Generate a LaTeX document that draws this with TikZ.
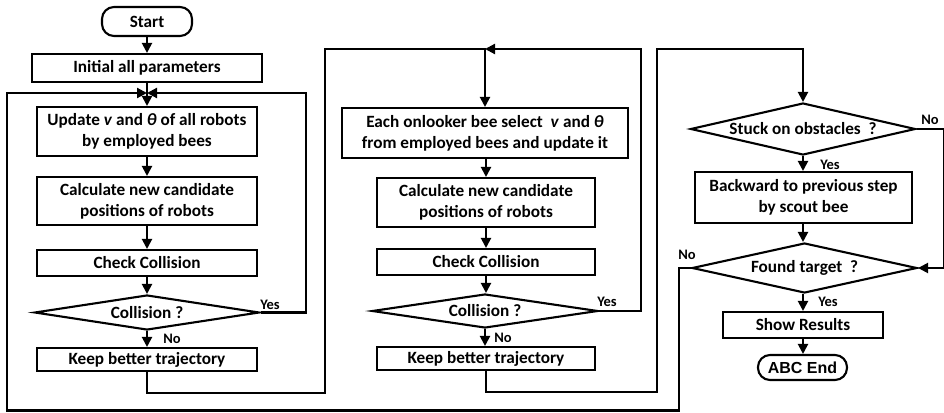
\documentclass[tikz,border=0pt]{standalone}
\usepackage{fontspec}
\setmainfont{Carlito}
\newfontfamily\arialf{Liberation Sans}
\usetikzlibrary{arrows.meta,shapes.geometric}
\begin{document}
\begin{tikzpicture}[x=1pt,y=-1pt,
  txt/.style={font=\bfseries\fontsize{17.2}{21}\selectfont,align=center,inner sep=0pt},
  lbl/.style={font=\bfseries\fontsize{14.5}{16}\selectfont,inner sep=0pt},
  box/.style={draw,line width=2.1pt,rectangle,inner sep=0pt,align=center,font=\bfseries\fontsize{17.2}{21}\selectfont},
  term/.style={box,rounded corners=12pt},
  dia/.style={draw,line width=2.1pt,diamond,inner sep=0pt},
  arr/.style={line width=2.1pt,-{Triangle[length=10pt,width=10pt]}}]
\useasboundingbox (0,0) rectangle (944,412);
% column 1
\node[term,minimum width=90,minimum height=29] (start) at (147,21.5) {Start};
\node[box,minimum width=230,minimum height=28] (init) at (147,68) {Initial all parameters};
\node[box,minimum width=220,minimum height=49] (upd) at (147,131.5) {Update \textit{v} and \textit{θ} of all robots\\by employed bees};
\node[box,minimum width=220,minimum height=48] (calc1) at (147,201) {Calculate new candidate\\positions of robots};
\node[box,minimum width=220,minimum height=26] (chk1) at (147,263) {Check Collision};
\node[dia,minimum width=225,minimum height=35] (d1) at (147,312.5) {};
\node[txt] (d1t) at (d1) {Collision ?};
\node[box,minimum width=220,minimum height=23] (keep1) at (147,359.5) {Keep better trajectory};
\coordinate (j1) at (147,93);
% column 2
\node[box,minimum width=286,minimum height=50] (onl) at (485,133) {Each onlooker bee select\ \ \textit{v} and \textit{θ}\\from employed bees and update it};
\node[box,minimum width=218,minimum height=49] (calc2) at (486,202.5) {Calculate new candidate\\positions of robots};
\node[box,minimum width=218,minimum height=26] (chk2) at (486,262) {Check Collision};
\node[dia,minimum width=226,minimum height=34] (d2) at (485,311) {};
\node[txt] (d2t) at (d2) {Collision ?};
\node[box,minimum width=218,minimum height=23] (keep2) at (486,358.5) {Keep better trajectory};
\coordinate (j2) at (485,49);
% column 3
\node[dia,minimum width=225,minimum height=52] (stuck) at (803,129) {};
\node[txt] (stuckt) at (stuck) {Stuck on obstacles\ \ ?};
\node[box,minimum width=217,minimum height=51] (back) at (803.5,197.5) {Backward to previous step\\by scout bee};
\node[dia,minimum width=225,minimum height=50] (found) at (804.5,268) {};
\node[txt] (foundt) at (found) {Found target\ \ ?};
\node[box,minimum width=160,minimum height=26] (show) at (803,325) {Show Results};
\node[term,minimum width=89,minimum height=25,font=\arialf\bfseries\fontsize{16}{18}\selectfont] (end) at (802.5,367.5) {ABC End};
% connectors column 1
\draw[arr] (start) -- (init);
\draw[arr] (init) -- (upd);
\draw[arr] (upd) -- (calc1);
\draw[arr] (calc1) -- (chk1);
\draw[arr] (chk1) -- (d1.north);
\draw[arr] (d1.south) -- (keep1);
\draw[arr] (d1.east) -- ++(45,0) |- (j1);
\draw[arr] (found.west) -- ++(-12,0) |- (7,410.5) |- (j1);
\node[lbl] (y1) at (270,305) {Yes};
\node[lbl] (n1) at (172,339) {No};
% column 2
\draw[arr] (keep1.south) -- ++(0,21) -| (325,49) -| (onl.north);
\draw[arr] (d2.east) -- ++(42,0) |- (j2);
\draw[arr] (onl.south -| calc2.north) -- (calc2);
\draw[arr] (calc2) -- (chk2);
\draw[arr] (chk2) -- (d2.north -| chk2.south);
\draw[arr] (d2.south) -- (keep2.north -| d2.south);
\node[lbl] (y2) at (607,302) {Yes};
\node[lbl] (n2) at (503,338) {No};
% column 3
\draw[arr] (keep2.south) -- ++(0,21) -| (657,49) -| (stuck.north);
\draw[arr] (stuck.south) -- (back.north -| stuck.south);
\draw[arr] (back.south -| stuck.south) -- (found.north -| stuck.south);
\draw[arr] (found.south -| stuck.south) -- (show.north -| stuck.south);
\draw[arr] (show.south -| stuck.south) -- (end.north -| stuck.south);
\draw[arr] (stuck.east) -- ++(27,0) |- (found.east);
\node[lbl] (n3) at (930,120) {No};
\node[lbl] (y3) at (830,165) {Yes};
\node[lbl] (n4) at (687,255) {No};
\node[lbl] (y4) at (828,302) {Yes};
\end{tikzpicture}
\end{document}
